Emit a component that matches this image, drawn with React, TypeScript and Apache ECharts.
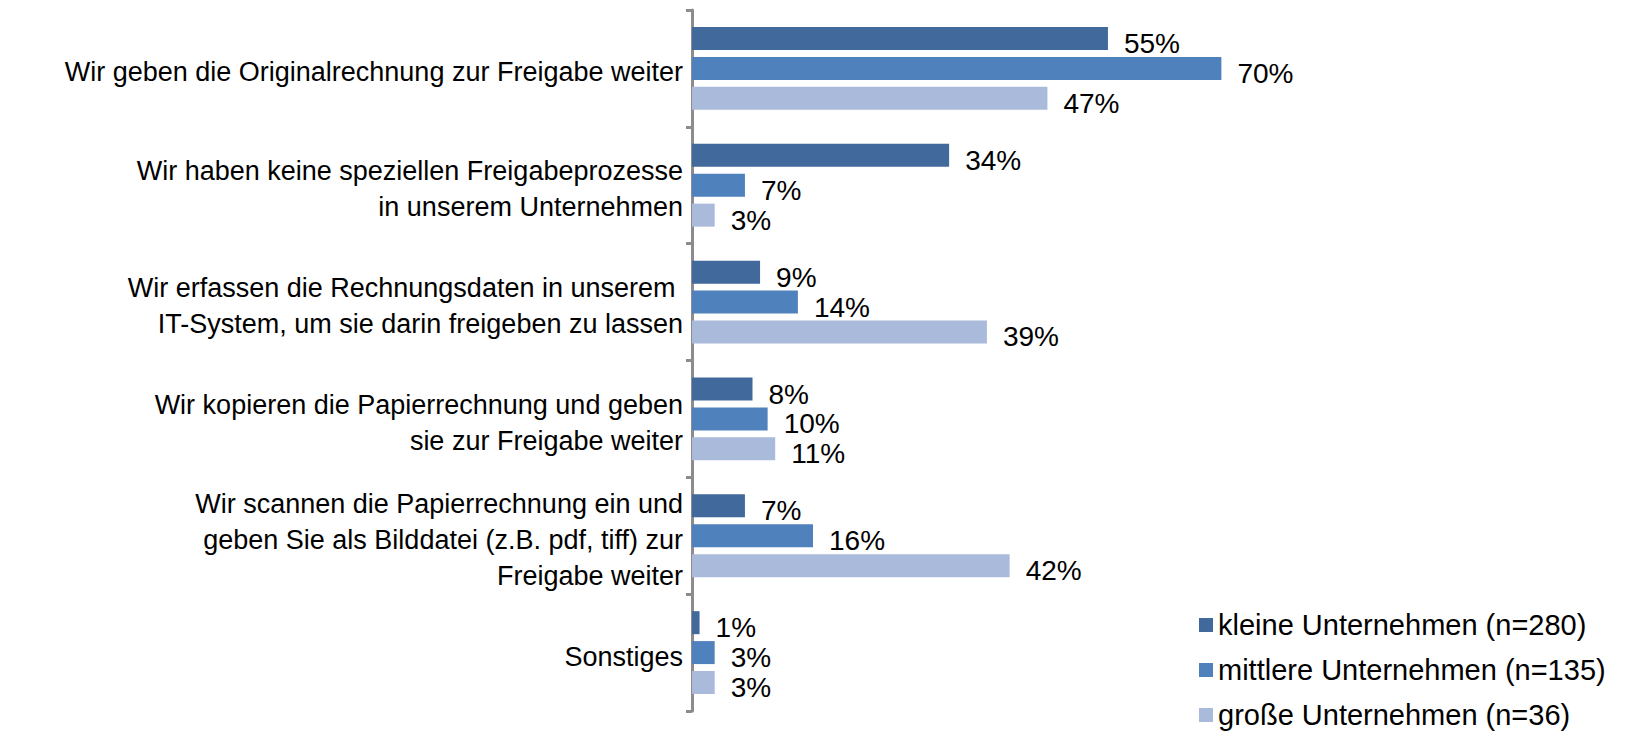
import React, { useEffect, useRef } from "react";
import * as echarts from "echarts";

const categories = [
  "Wir geben die Originalrechnung zur Freigabe weiter",
  "Wir haben keine speziellen Freigabeprozesse\nin unserem Unternehmen",
  "Wir erfassen die Rechnungsdaten in unserem \nIT-System, um sie darin freigeben zu lassen",
  "Wir kopieren die Papierrechnung und geben\nsie zur Freigabe weiter",
  "Wir scannen die Papierrechnung ein und\ngeben Sie als Bilddatei (z.B. pdf, tiff) zur\nFreigabe weiter",
  "Sonstiges",
];

const seriesNames = [
  "kleine Unternehmen (n=280)",
  "mittlere Unternehmen (n=135)",
  "große Unternehmen (n=36)",
];

const kleine = [55, 34, 9, 8, 7, 1];
const mittlere = [70, 7, 14, 10, 16, 3];
const grosse = [47, 3, 39, 11, 42, 3];

const colors = ["#41699B", "#4F81BD", "#AABADA"];

const FONT = "Liberation Sans, Arial, sans-serif";

export default function App() {
  const ref = useRef<HTMLDivElement>(null);

  useEffect(() => {
    if (!ref.current) return;
    const chart = echarts.init(ref.current, null, { renderer: "svg" });
    const values = [kleine, mittlere, grosse];
    chart.setOption({
      animation: false,
      grid: { left: 692, top: 10, bottom: 20, width: 605, containLabel: false },
      xAxis: {
        type: "value",
        min: 0,
        max: 80,
        show: false,
        splitLine: { show: false },
      },
      yAxis: {
        type: "category",
        inverse: true,
        data: categories,
        axisLine: { show: true, lineStyle: { color: "#8C8C8C", width: 3 } },
        axisTick: { show: true, inside: false, length: 6, lineStyle: { color: "#8C8C8C", width: 3 } },
        axisLabel: {
          margin: 9,
          color: "#000",
          fontSize: 27,
          fontFamily: FONT,
          lineHeight: 36,
          align: "right",
          formatter: (v: string) =>
            "{s|}\n" + v.split("\n").map((l) => `{a|${l}}`).join("\n"),
          rich: {
            s: { lineHeight: 8, fontSize: 1 },
            a: { fontSize: 27, lineHeight: 36, fontFamily: FONT, color: "#000", align: "right" },
          },
        },
        splitLine: { show: false },
      },
      legend: {
        orient: "vertical",
        left: 1199,
        top: 610,
        padding: 0,
        height: 125,
        itemWidth: 14,
        itemHeight: 14,
        itemGap: 15,
        icon: "rect",
        textStyle: { fontSize: 29, fontFamily: FONT, color: "#000", lineHeight: 30 },
        data: seriesNames,
      },
      series: seriesNames.map((name, i) => ({
        name,
        type: "bar",
        data: values[i],
        barWidth: 23,
        barGap: "30%",
        itemStyle: { color: colors[i] },
        label: {
          show: true,
          position: "right",
          distance: 16,
          offset: [0, 5],
          formatter: "{c}%",
          color: "#000",
          fontSize: 28,
          fontFamily: FONT,
        },
      })),
    });
    return () => chart.dispose();
  }, []);

  return (
    <div
      ref={ref}
      style={{ position: "fixed", left: 0, top: 0, width: 1625, height: 731, background: "#fff" }}
    />
  );
}
